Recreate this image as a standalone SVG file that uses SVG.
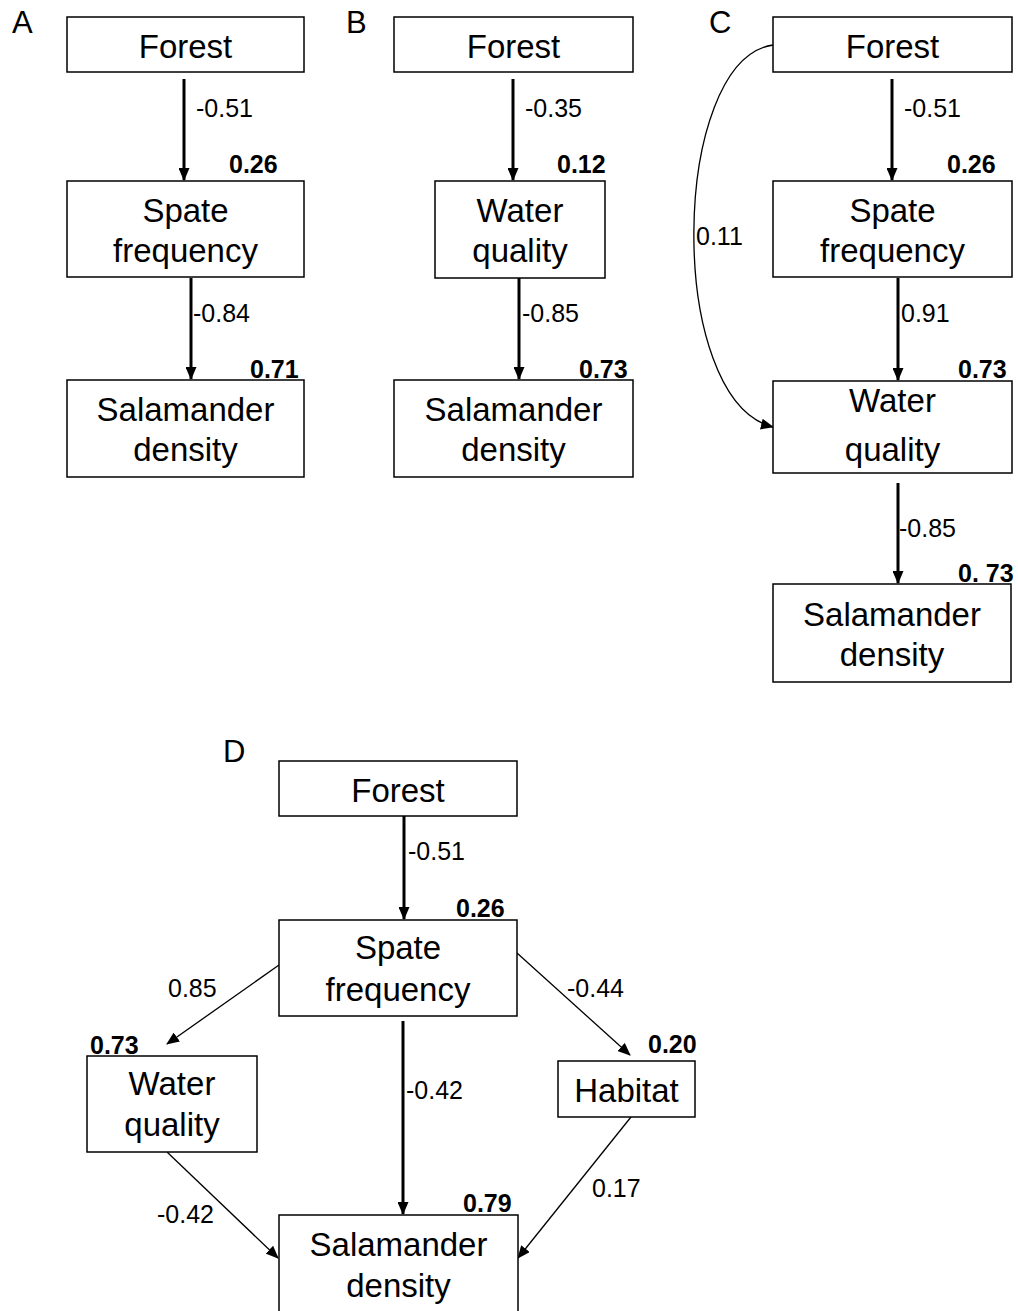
<svg xmlns="http://www.w3.org/2000/svg" width="1018" height="1311" viewBox="0 0 1018 1311">
<style>
text{font-family:"Liberation Sans",Arial,sans-serif;fill:#000}
.n{font-size:33px;text-anchor:middle}
.p{font-size:31px}
.c{font-size:25px}
.r{font-size:25px;font-weight:bold}
rect{fill:#fff;stroke:#000;stroke-width:1.5}
.thick{stroke:#000;stroke-width:3;fill:none}
.thin{stroke:#000;stroke-width:1.3;fill:none}
</style>
<defs>
<marker id="ah" markerUnits="userSpaceOnUse" markerWidth="13" markerHeight="11" refX="12" refY="5.5" orient="auto"><path d="M0,0 L13,5.5 L0,11 z" fill="#000"/></marker>
</defs>
<text class="p" x="12" y="33">A</text>
<text class="p" x="346" y="33">B</text>
<text class="p" x="709" y="33">C</text>
<text class="p" x="223" y="762">D</text>
<g id="connectors">
<line class="thick" x1="184" y1="79" x2="184" y2="180" marker-end="url(#ah)"/>
<line class="thick" x1="191" y1="278" x2="191" y2="379" marker-end="url(#ah)"/>
<line class="thick" x1="513" y1="79" x2="513" y2="180" marker-end="url(#ah)"/>
<line class="thick" x1="519" y1="278" x2="519" y2="379" marker-end="url(#ah)"/>
<line class="thick" x1="892" y1="79" x2="892" y2="180" marker-end="url(#ah)"/>
<line class="thick" x1="898" y1="278" x2="898" y2="380" marker-end="url(#ah)"/>
<path class="thin" d="M773,45 C670,60 665,400 773,427" marker-end="url(#ah)"/>
<line class="thick" x1="898" y1="483" x2="898" y2="583" marker-end="url(#ah)"/>
<line class="thick" x1="404" y1="816" x2="404" y2="919" marker-end="url(#ah)"/>
<line class="thin" x1="279" y1="965" x2="167" y2="1044" marker-end="url(#ah)"/>
<line class="thin" x1="517" y1="953" x2="630" y2="1055" marker-end="url(#ah)"/>
<line class="thick" x1="403" y1="1021" x2="403" y2="1214" marker-end="url(#ah)"/>
<line class="thin" x1="167" y1="1152" x2="278" y2="1258" marker-end="url(#ah)"/>
<line class="thin" x1="631" y1="1117" x2="518" y2="1258" marker-end="url(#ah)"/>
</g>
<g id="labels">
<text class="c" x="196" y="117">-0.51</text>
<text class="r" x="229" y="173">0.26</text>
<text class="c" x="193" y="322">-0.84</text>
<text class="r" x="250" y="378">0.71</text>
<text class="c" x="525" y="117">-0.35</text>
<text class="r" x="557" y="173">0.12</text>
<text class="c" x="522" y="322">-0.85</text>
<text class="r" x="579" y="378">0.73</text>
<text class="c" x="904" y="117">-0.51</text>
<text class="r" x="947" y="173">0.26</text>
<text class="c" x="901" y="322">0.91</text>
<text class="r" x="958" y="378">0.73</text>
<text class="c" x="696" y="245">0.11</text>
<text class="c" x="899" y="537">-0.85</text>
<text class="r" x="958" y="582">0. 73</text>
<text class="c" x="408" y="860">-0.51</text>
<text class="r" x="456" y="917">0.26</text>
<text class="c" x="168" y="997">0.85</text>
<text class="r" x="90" y="1054">0.73</text>
<text class="c" x="567" y="997">-0.44</text>
<text class="r" x="648" y="1053">0.20</text>
<text class="c" x="406" y="1099">-0.42</text>
<text class="c" x="157" y="1223">-0.42</text>
<text class="c" x="592" y="1197">0.17</text>
<text class="r" x="463" y="1212">0.79</text>
</g>
<g id="A-forest"><rect x="67" y="17" width="237" height="55"/><text class="n" x="185.5" y="58">Forest</text></g>
<g id="A-spate"><rect x="67" y="181" width="237" height="96"/><text class="n" x="185.5" y="222">Spate</text><text class="n" x="185.5" y="262">frequency</text></g>
<g id="A-salamander"><rect x="67" y="380" width="237" height="97"/><text class="n" x="185.5" y="421">Salamander</text><text class="n" x="185.5" y="461">density</text></g>
<g id="B-forest"><rect x="394" y="17" width="239" height="55"/><text class="n" x="513.5" y="58">Forest</text></g>
<g id="B-water"><rect x="435" y="181" width="170" height="97"/><text class="n" x="520" y="222">Water</text><text class="n" x="520" y="262">quality</text></g>
<g id="B-salamander"><rect x="394" y="380" width="239" height="97"/><text class="n" x="513.5" y="421">Salamander</text><text class="n" x="513.5" y="461">density</text></g>
<g id="C-forest"><rect x="773" y="17" width="239" height="55"/><text class="n" x="892.5" y="58">Forest</text></g>
<g id="C-spate"><rect x="773" y="181" width="239" height="96"/><text class="n" x="892.5" y="222">Spate</text><text class="n" x="892.5" y="262">frequency</text></g>
<g id="C-water"><rect x="773" y="381" width="239" height="92"/><text class="n" x="892.5" y="412">Water</text><text class="n" x="892.5" y="461">quality</text></g>
<g id="C-salamander"><rect x="773" y="584" width="238" height="98"/><text class="n" x="892" y="626">Salamander</text><text class="n" x="892" y="666">density</text></g>
<g id="D-forest"><rect x="279" y="761" width="238" height="55"/><text class="n" x="398" y="802">Forest</text></g>
<g id="D-spate"><rect x="279" y="920" width="238" height="96"/><text class="n" x="398" y="959">Spate</text><text class="n" x="398" y="1001">frequency</text></g>
<g id="D-water"><rect x="87" y="1056" width="170" height="96"/><text class="n" x="172" y="1095">Water</text><text class="n" x="172" y="1136">quality</text></g>
<g id="D-habitat"><rect x="558" y="1061" width="137" height="56"/><text class="n" x="626.5" y="1102">Habitat</text></g>
<g id="D-salamander"><rect x="279" y="1215" width="239" height="105"/><text class="n" x="398.5" y="1256">Salamander</text><text class="n" x="398.5" y="1297">density</text></g>
</svg>
